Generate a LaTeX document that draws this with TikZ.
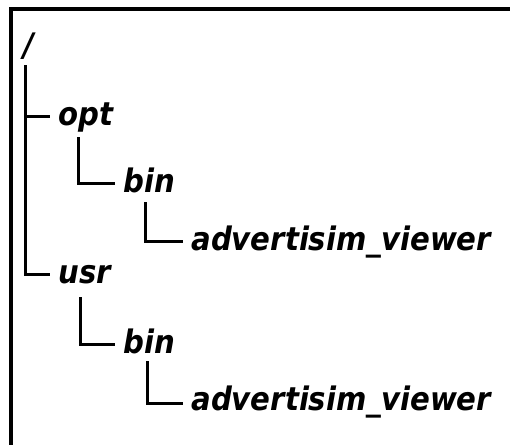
\documentclass[tikz,border=0pt]{standalone}
\usepackage{fontspec}
\setmainfont{DejaVu Sans Condensed}

\begin{document}
\begin{tikzpicture}[x=0.5pt, y=-0.5pt,
        every node/.style={anchor=base west, inner xsep=4pt, inner ysep=2pt,
            font=\fontsize{16.2}{19}\selectfont\bfseries\itshape},
        branch/.style={line width=1.5pt}]
            \useasboundingbox (0, 0) rectangle (510, 445);
            \draw[line width=2pt] (9, 9) -- (510, 9);
            \draw[line width=2pt] (11, 7) -- (11, 445);
            \node(root) at (15, 56) {/};
            \node(opt) at (50, 125) {opt};
            \node(usr) at (50, 283) {usr};
            \path[branch] ([xshift=5pt, yshift=-4.5pt]root.base west) edge[to path={|- (\tikztotarget)}] ([yshift=4.5pt]opt.base west)
                ([xshift=5pt, yshift=-4.5pt]root.base west) edge[to path={|- (\tikztotarget)}] ([yshift=4.5pt]usr.base west);
            \node(optbin) at (115, 192) {bin};
            \node(usrbin) at (115, 353) {bin};
            \path[branch] ([xshift=14pt, yshift=-6pt]opt.base west) edge[to path={|- (\tikztotarget)}] ([yshift=4.5pt]optbin.base west)
                ([xshift=15pt, yshift=-7pt]usr.base west) edge[to path={|- (\tikztotarget)}] ([yshift=4.5pt]usrbin.base west);
            \node(optviewer) at (183, 250) {advertisim\_viewer};
            \node(usrviewer) at (183, 410) {advertisim\_viewer};
            \path[branch] ([xshift=15pt, yshift=-5pt]optbin.base west) edge[to path={|- (\tikztotarget)}] ([yshift=4.5pt]optviewer.base west)
                ([xshift=16pt, yshift=-4pt]usrbin.base west) edge[to path={|- (\tikztotarget)}] ([yshift=3.5pt]usrviewer.base west);
        \end{tikzpicture}
\end{document}
